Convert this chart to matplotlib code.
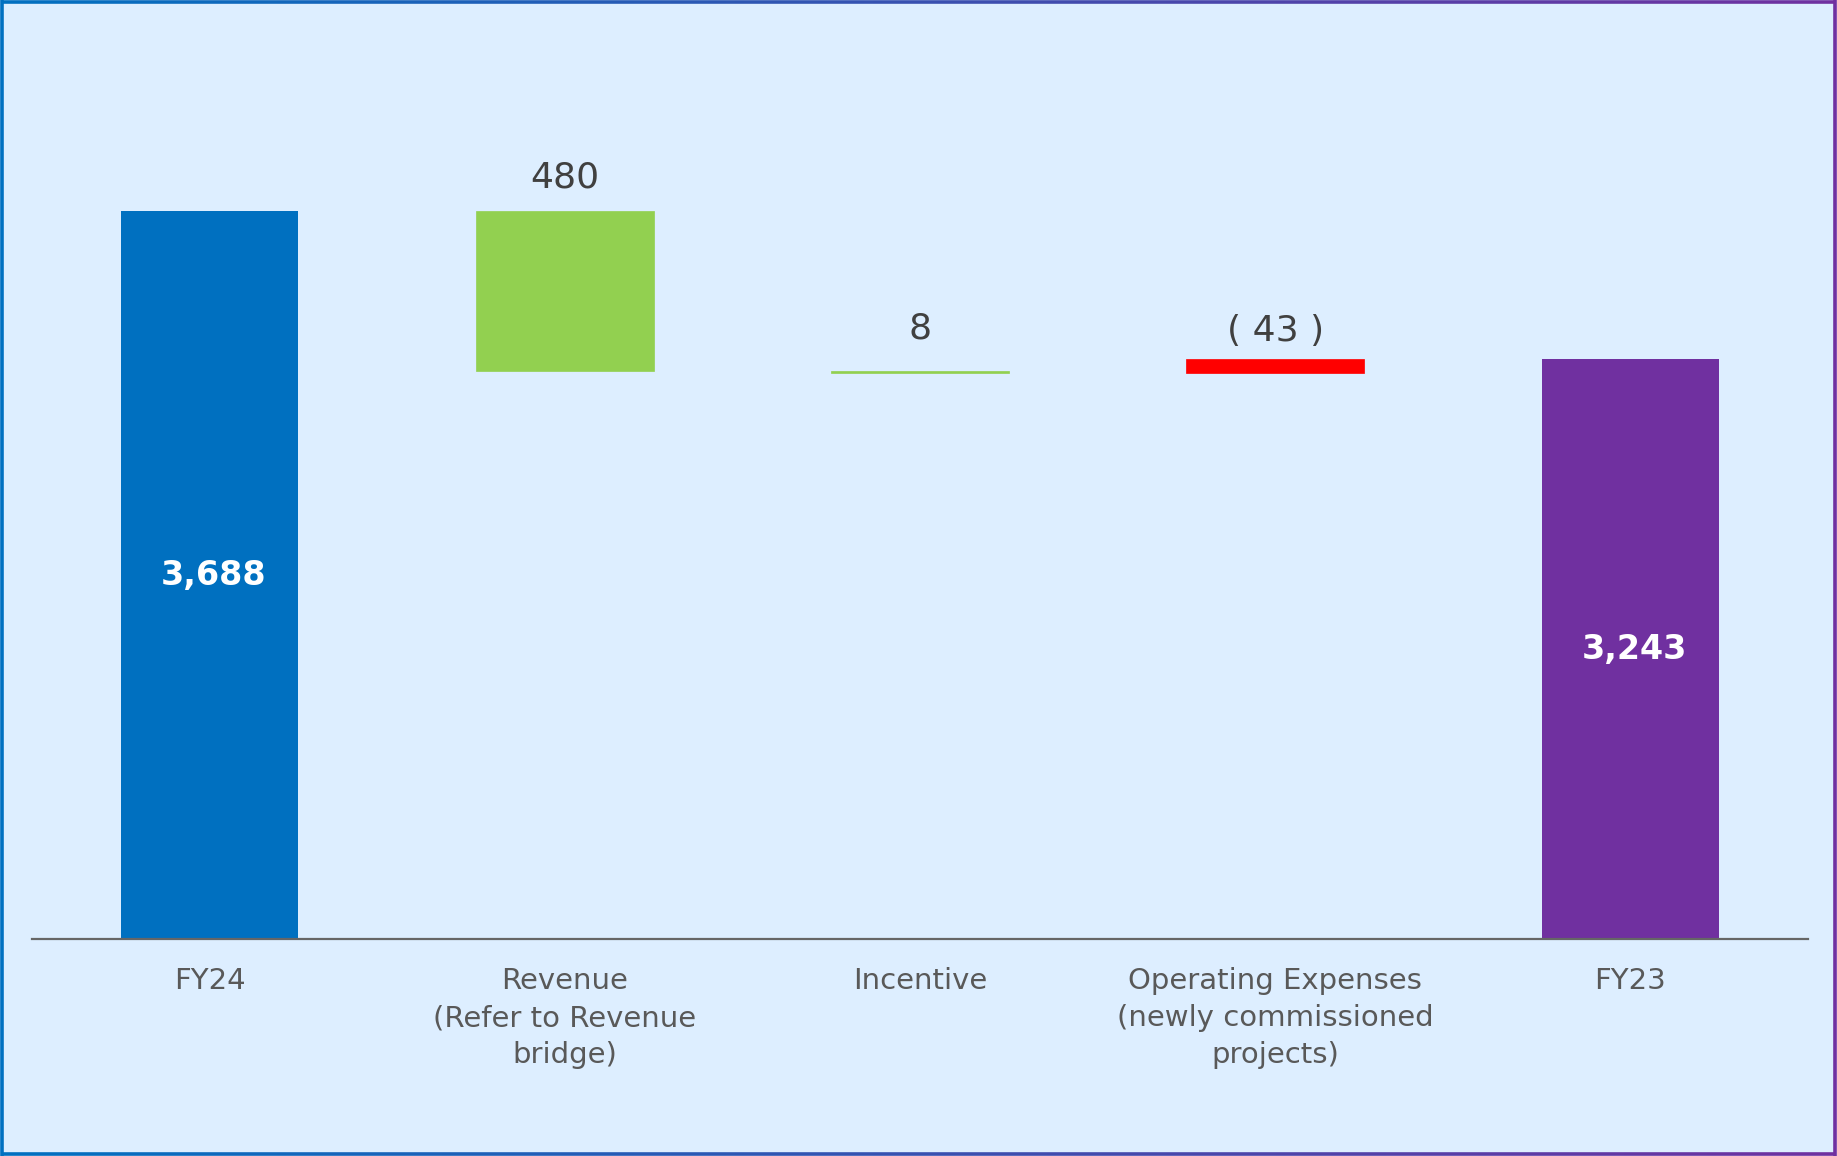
import matplotlib.pyplot as plt
import numpy as np
from matplotlib.collections import LineCollection
from matplotlib.colors import to_rgb

# EBITDA bridge, FY24 on the left back to FY23 on the right
categories = ["FY24", "Revenue\n(Refer to Revenue\nbridge)", "Incentive",
              "Operating Expenses\n(newly commissioned\nprojects)", "FY23"]
fy24_total = 3688
fy23_total = 3243
deltas = [480, 8, -43]  # revenue, incentive, opex
delta_labels = ["480", "8", "( 43 )"]
label_gaps = [33, 42, 28]  # px between bar top and label centre
y_floor = 1500

BG = "#DDEEFF"
BLUE = "#0070C0"
PURPLE = "#7030A0"
GREEN = "#92D050"
RED = "#FF0000"
TEXT = "#404040"
TICK = "#595959"

plt.rcParams['font.family'] = ['DejaVu Sans']

W, H, DPI = 1837, 1156, 100
fig = plt.figure(figsize=(W / DPI, H / DPI), dpi=DPI, facecolor=BG)

# axes placed so the baseline sits near the bottom third
ax_left, ax_right = 32 / W, 1808 / W
ax_bottom = (H - 939) / H
ax_top_px = 40
ax = fig.add_axes([ax_left, ax_bottom, ax_right - ax_left, (939 - ax_top_px) / H])
ax.set_facecolor(BG)

px_per_unit = 728 / (fy24_total - y_floor)
y_top = y_floor + (939 - ax_top_px) / px_per_unit
ax.set_ylim(y_floor, y_top)
ax.set_xlim(-0.5, 4.5)

x = np.arange(len(categories))
width = 0.5

# totals
ax.bar(x[0], fy24_total - y_floor, bottom=y_floor, width=width, color=BLUE)
ax.bar(x[4], fy23_total - y_floor, bottom=y_floor, width=width, color=PURPLE)
ax.text(x[0] + 0.01, (fy24_total + y_floor) / 2, f"{fy24_total:,}", ha='center', va='center',
        color='white', fontsize=24, fontweight='bold')
ax.text(x[4] + 0.01, (fy23_total + y_floor) / 2, f"{fy23_total:,}", ha='center', va='center',
        color='white', fontsize=24, fontweight='bold')

# walk back from FY24: each step ends where the next begins
level = fy24_total
for i, (d, lab, gap) in enumerate(zip(deltas, delta_labels, label_gaps)):
    xi = x[i + 1]
    if d >= 0:
        top, bottom = level, level - d
        color = GREEN
    else:
        bottom, top = level, level - d
        color = RED
    ax.bar(xi, top - bottom, bottom=bottom, width=width, color=color,
           edgecolor=color, linewidth=0.5)
    ax.annotate(lab, (xi, top), xytext=(0, gap), textcoords='offset pixels',
                ha='center', va='center', color=TEXT, fontsize=26)
    level = level - d

ax.set_xticks(x)
ax.set_xticklabels(categories, fontsize=21, color=TICK, linespacing=1.42)
ax.tick_params(axis='x', length=0, pad=20)
ax.set_yticks([])
for s in ['top', 'left', 'right']:
    ax.spines[s].set_visible(False)
ax.spines['bottom'].set_color('#666666')
ax.spines['bottom'].set_linewidth(1.6)

# gradient frame around the figure
c0, c1 = np.array(to_rgb(BLUE)), np.array(to_rgb(PURPLE))
n = 200
xs = np.linspace(0.001, 0.999, n + 1)
segs, cols = [], []
for yy in (0.0015, 0.9985):
    for k in range(n):
        segs.append([(xs[k], yy), (xs[k + 1], yy)])
        t = (xs[k] + xs[k + 1]) / 2
        cols.append(c0 * (1 - t) + c1 * t)
segs.append([(0.001, 0), (0.001, 1)])
cols.append(c0)
segs.append([(0.999, 0), (0.999, 1)])
cols.append(c1)
fig.add_artist(LineCollection(segs, colors=cols, linewidths=2.6, transform=fig.transFigure))

fig.savefig("out.png", dpi=DPI, facecolor=BG)
